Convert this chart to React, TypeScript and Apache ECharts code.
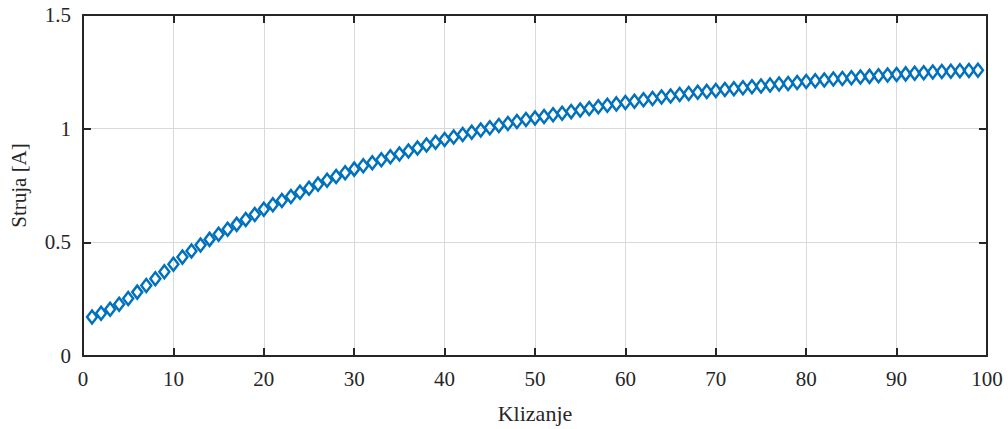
import React, { useEffect, useRef } from "react";
import * as echarts from "echarts";

const xValues: number[] = Array.from({ length: 99 }, (_, i) => i + 1);

const currentValues: number[] = [
  0.172, 0.188, 0.206, 0.228, 0.253, 0.281, 0.310, 0.340, 0.371, 0.404,
  0.435, 0.462, 0.488, 0.513, 0.536, 0.558, 0.579, 0.600, 0.622, 0.646,
  0.665, 0.684, 0.702, 0.720, 0.738, 0.756, 0.773, 0.790, 0.806, 0.822,
  0.837, 0.850, 0.863, 0.876, 0.889, 0.902, 0.915, 0.928, 0.940, 0.952,
  0.963, 0.974, 0.984, 0.994, 1.004, 1.014, 1.023, 1.032, 1.040, 1.047,
  1.054, 1.061, 1.068, 1.075, 1.082, 1.089, 1.096, 1.103, 1.109, 1.115,
  1.121, 1.127, 1.133, 1.139, 1.144, 1.150, 1.155, 1.160, 1.164, 1.168,
  1.172, 1.176, 1.180, 1.184, 1.188, 1.192, 1.196, 1.199, 1.203, 1.207,
  1.211, 1.214, 1.218, 1.221, 1.224, 1.227, 1.230, 1.233, 1.236, 1.238,
  1.241, 1.244, 1.246, 1.249, 1.251, 1.253, 1.255, 1.256, 1.257,
];

const xAxisName = "Klizanje";
const yAxisName = "Struja [A]";

const AXIS_COLOR = "#262626";
const FONT = "Liberation Serif";

export default function App() {
  const ref = useRef<HTMLDivElement>(null);

  useEffect(() => {
    document.body.style.margin = "0";
    if (!ref.current) return;
    const chart = echarts.init(ref.current, undefined, { renderer: "svg" });

    const axisLine = { show: true, onZero: false, lineStyle: { color: AXIS_COLOR, width: 2 } };
    const axisTick = { show: true, inside: true, length: 8, lineStyle: { color: AXIS_COLOR, width: 2 } };
    const axisLabel = { color: AXIS_COLOR, fontFamily: FONT, fontSize: 21 };

    chart.setOption({
      animation: false,
      backgroundColor: "#ffffff",
      textStyle: { fontFamily: FONT },
      grid: {
        left: 83,
        right: 21,
        top: 15,
        bottom: 73,
        containLabel: false,
        outerBoundsMode: "none",
      },
      xAxis: [
        {
          type: "value",
          min: 0,
          max: 100,
          interval: 10,
          position: "bottom",
          axisLine,
          axisTick,
          axisLabel: { ...axisLabel, margin: 12 },
          splitLine: { show: true, lineStyle: { color: "#d9d9d9", width: 1 } },
          name: xAxisName,
          nameLocation: "middle",
          nameGap: 46,
          nameTextStyle: { color: AXIS_COLOR, fontFamily: FONT, fontSize: 22 },
        },
        {
          type: "value",
          min: 0,
          max: 100,
          interval: 10,
          position: "top",
          axisLine,
          axisTick,
          axisLabel: { show: false },
          splitLine: { show: false },
        },
      ],
      yAxis: [
        {
          type: "value",
          min: 0,
          max: 1.5,
          interval: 0.5,
          position: "left",
          axisLine,
          axisTick,
          axisLabel: { ...axisLabel, margin: 12 },
          splitLine: { show: true, lineStyle: { color: "#d9d9d9", width: 1 } },
          name: yAxisName,
          nameLocation: "middle",
          nameGap: 54,
          nameRotate: 90,
          nameTextStyle: { color: AXIS_COLOR, fontFamily: FONT, fontSize: 21 },
        },
        {
          type: "value",
          min: 0,
          max: 1.5,
          interval: 0.5,
          position: "right",
          axisLine,
          axisTick,
          axisLabel: { show: false },
          splitLine: { show: false },
        },
      ],
      series: [
        {
          type: "line",
          xAxisIndex: 0,
          yAxisIndex: 0,
          data: xValues.map((x, i) => [x, currentValues[i]]),
          lineStyle: { width: 0, opacity: 0 },
          symbol: "diamond",
          symbolSize: [10, 13],
          showAllSymbol: true,
          itemStyle: { color: "rgba(0,0,0,0)", borderColor: "#0072BD", borderWidth: 2.5 },
          emphasis: { disabled: true },
        },
      ],
    });

    return () => chart.dispose();
  }, []);

  return <div ref={ref} style={{ width: 1008, height: 429 }} />;
}
